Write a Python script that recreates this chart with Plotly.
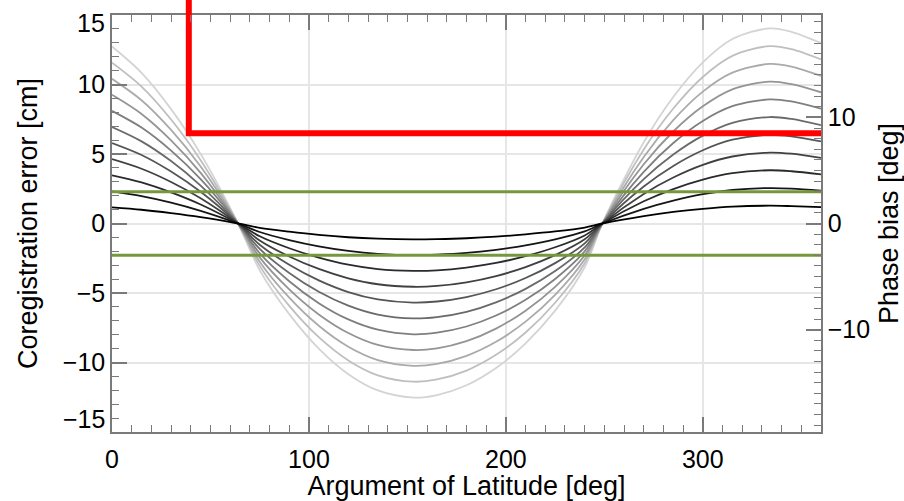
import plotly.graph_objects as go

# Argument of latitude samples [deg]
arg_lat = [0, 15, 30, 45, 64, 75, 90, 105, 120, 135, 153, 165, 180, 195,
           210, 225, 240, 249, 270, 285, 300, 315, 334, 345, 360]

# Coregistration error curves [cm], smallest to largest amplitude
coreg_1 = [1.16, 0.99, 0.75, 0.46, 0, -0.31, -0.59, -0.82, -0.99, -1.09, -1.14, -1.12, -1.06, -0.95,
           -0.78, -0.57, -0.29, 0, 0.53, 0.83, 1.05, 1.21, 1.28, 1.25, 1.18]
coreg_2 = [2.31, 1.97, 1.50, 0.91, 0, -0.61, -1.19, -1.64, -1.97, -2.18, -2.28, -2.24, -2.12, -1.89,
           -1.57, -1.14, -0.57, 0, 1.06, 1.65, 2.11, 2.41, 2.55, 2.51, 2.36]
coreg_3 = [3.47, 2.96, 2.24, 1.37, 0, -0.92, -1.78, -2.45, -2.96, -3.28, -3.41, -3.37, -3.17, -2.84,
           -2.35, -1.71, -0.86, 0, 1.60, 2.48, 3.16, 3.62, 3.83, 3.76, 3.54]
coreg_4 = [4.63, 3.94, 2.99, 1.82, 0, -1.22, -2.37, -3.27, -3.94, -4.37, -4.55, -4.49, -4.23, -3.78,
           -3.14, -2.28, -1.14, 0, 2.13, 3.31, 4.22, 4.82, 5.10, 5.02, 4.72]
coreg_5 = [5.79, 4.93, 3.74, 2.28, 0, -1.53, -2.97, -4.09, -4.93, -5.46, -5.69, -5.61, -5.29, -4.73,
           -3.92, -2.85, -1.43, 0, 2.66, 4.14, 5.27, 6.03, 6.38, 6.27, 5.90]
coreg_6 = [6.94, 5.91, 4.49, 2.73, 0, -1.83, -3.56, -4.91, -5.91, -6.55, -6.83, -6.73, -6.35, -5.67,
           -4.70, -3.42, -1.72, 0, 3.19, 4.96, 6.32, 7.24, 7.66, 7.52, 7.08]
coreg_7 = [8.10, 6.90, 5.24, 3.19, 0, -2.14, -4.15, -5.73, -6.90, -7.64, -7.97, -7.85, -7.41, -6.62,
           -5.49, -3.99, -2.00, 0, 3.72, 5.79, 7.38, 8.44, 8.93, 8.78, 8.26]
coreg_8 = [9.26, 7.88, 5.98, 3.64, 0, -2.44, -4.74, -6.54, -7.88, -8.74, -9.10, -8.98, -8.46, -7.56,
           -6.27, -4.56, -2.29, 0, 4.26, 6.62, 8.43, 9.65, 10.21, 10.03, 9.44]
coreg_9 = [10.41, 8.87, 6.73, 4.10, 0, -2.75, -5.34, -7.36, -8.87, -9.83, -10.24, -10.10, -9.52, -8.51,
           -7.06, -5.13, -2.57, 0, 4.79, 7.44, 9.49, 10.85, 11.48, 11.29, 10.62]
coreg_10 = [11.57, 9.85, 7.48, 4.55, 0, -3.05, -5.93, -8.18, -9.85, -10.92, -11.38, -11.22, -10.58, -9.45,
            -7.84, -5.70, -2.86, 0, 5.32, 8.27, 10.54, 12.06, 12.76, 12.54, 11.80]
coreg_11 = [12.73, 10.84, 8.23, 5.01, 0, -3.36, -6.52, -9.00, -10.84, -12.01, -12.52, -12.34, -11.64, -10.40,
            -8.62, -6.27, -3.15, 0, 5.85, 9.10, 11.59, 13.27, 14.04, 13.79, 12.98]

coreg_curves = [coreg_1, coreg_2, coreg_3, coreg_4, coreg_5, coreg_6,
                coreg_7, coreg_8, coreg_9, coreg_10, coreg_11]

# Phase bias limits [deg]
green_lat = [0, 360]
green_upper = [3, 3]
green_lower = [-3, -3]

# Phase bias threshold (red step line)
red_lat = [39, 39, 360]
red_phase = [19.65, 8.5, 8.5]

x_ticks = [0, 100, 200, 300]
y_ticks = [-15, -10, -5, 0, 5, 10, 15]
y_ticktext = ["", "\u221210", "\u22125", "0", "5", "10", ""]
y_edge_labels = [15, -15]
y2_ticks = [-10, 0, 10]

FONT = "Liberation Sans, Arial, Helvetica, sans-serif"
AXIS_GRAY = "#7a7a7a"
GRID = "#e6e6e6"
TICK_SIZE = 25
TITLE_SIZE = 27

fig = go.Figure()

# grayscale family: dark for the smallest amplitude, light for the largest
n = len(coreg_curves)
for i in reversed(range(n)):
    level = int(round(i / (n - 1) * 212))
    color = f"rgb({level},{level},{level})"
    fig.add_trace(go.Scatter(
        x=arg_lat, y=coreg_curves[i], mode="lines",
        line=dict(color=color, width=1.8, shape="spline", smoothing=0.9),
        showlegend=False, hoverinfo="skip",
    ))

for yvals in (green_upper, green_lower):
    fig.add_trace(go.Scatter(
        x=green_lat, y=yvals, yaxis="y2", mode="lines",
        line=dict(color="#76983a", width=3),
        showlegend=False, hoverinfo="skip",
    ))

fig.add_trace(go.Scatter(
    x=red_lat, y=red_phase, yaxis="y2", mode="lines",
    line=dict(color="#ff0000", width=6),
    showlegend=False, hoverinfo="skip",
))

# the red vertical runs past the top of the frame
fig.add_shape(type="line", xref="x", yref="paper",
              x0=red_lat[0], x1=red_lat[1], y0=1.0, y1=1.04,
              line=dict(color="#ff0000", width=6))

# end labels of the left axis sit just inside the frame
for v in y_edge_labels:
    fig.add_annotation(
        x=0, y=v, xref="x", yref="y", showarrow=False,
        text=str(v).replace("-", "\u2212"),
        xanchor="right", yanchor="middle", xshift=-5,
        yshift=-8 if v > 0 else 13,
        font=dict(family=FONT, size=TICK_SIZE, color="black"),
    )

tick_common = dict(
    ticks="inside", ticklen=15, tickwidth=1.5, tickcolor=AXIS_GRAY,
    showline=True, linecolor=AXIS_GRAY, linewidth=1.5,
    zeroline=False,
    tickfont=dict(family=FONT, size=TICK_SIZE, color="black"),
)

fig.update_layout(
    width=904, height=501,
    margin=dict(l=112, r=83, t=15, b=69),
    paper_bgcolor="white", plot_bgcolor="white",
    font=dict(family=FONT, color="black"),
    xaxis=dict(
        range=[0, 360], tickvals=x_ticks, mirror="ticks",
        showgrid=True, gridcolor=GRID, gridwidth=1.5,
        minor=dict(dtick=10, ticklen=7, tickwidth=1.2, tickcolor=AXIS_GRAY,
                   ticks="inside", showgrid=False),
        ticklabelstandoff=4,
        title=dict(text="Argument of Latitude [deg]",
                   font=dict(family=FONT, size=TITLE_SIZE), standoff=5),
        automargin=False,
        **tick_common,
    ),
    yaxis=dict(
        range=[-15, 15], tickvals=y_ticks, ticktext=y_ticktext,
        showgrid=True, gridcolor=GRID, gridwidth=1.5,
        minor=dict(dtick=1, ticklen=7, tickwidth=1.2, tickcolor=AXIS_GRAY,
                   ticks="inside", showgrid=False),
        title=dict(text="Coregistration error [cm]",
                   font=dict(family=FONT, size=TITLE_SIZE), standoff=17),
        automargin=False,
        **tick_common,
    ),
    yaxis2=dict(
        range=[-19.65, 19.65], tickvals=y2_ticks, overlaying="y", side="right",
        showgrid=False,
        minor=dict(dtick=1, ticklen=7, tickwidth=1.2, tickcolor=AXIS_GRAY,
                   ticks="inside", showgrid=False),
        title=dict(text="Phase bias [deg]",
                   font=dict(family=FONT, size=TITLE_SIZE), standoff=18),
        automargin=False,
        **tick_common,
    ),
)

fig.write_html("out.html")
